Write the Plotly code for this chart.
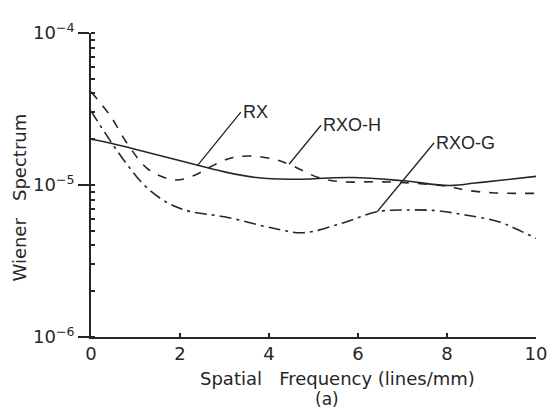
import math
import plotly.graph_objects as go

# ---- data ----
freq_rx = [0.0, 0.42, 0.86, 1.52, 2.40, 3.00, 3.72, 4.45, 5.86, 6.96, 8.06, 8.63, 9.16, 10.0]
ws_rx = [2.00e-5, 1.89e-5, 1.76e-5, 1.57e-5, 1.35e-5, 1.22e-5, 1.12e-5, 1.09e-5,
         1.12e-5, 1.07e-5, 9.93e-6, 1.03e-5, 1.07e-5, 1.14e-5]

freq_h = [0.0, 0.42, 0.86, 1.30, 1.89, 2.33, 2.69, 3.13, 3.57, 4.10, 4.45, 5.11,
          5.64, 6.37, 6.96, 8.06, 8.41, 9.01, 10.0]
ws_h = [4.11e-5, 2.89e-5, 1.79e-5, 1.26e-5, 1.08e-5, 1.16e-5, 1.32e-5, 1.50e-5,
        1.55e-5, 1.48e-5, 1.37e-5, 1.12e-5, 1.05e-5, 1.05e-5, 1.04e-5, 9.75e-6,
        9.27e-6, 8.89e-6, 8.81e-6]

freq_g = [0.0, 0.42, 0.79, 1.23, 1.74, 2.25, 3.00, 4.10, 4.76, 5.64, 6.43, 7.09,
          7.75, 8.41, 9.16, 9.52, 10.0]
ws_g = [3.07e-5, 1.98e-5, 1.39e-5, 9.75e-6, 7.58e-6, 6.67e-6, 6.18e-6, 5.19e-6,
        4.85e-6, 5.60e-6, 6.67e-6, 6.85e-6, 6.78e-6, 6.35e-6, 5.74e-6, 5.19e-6,
        4.46e-6]

series_names = ["RX", "RXO-H", "RXO-G"]
label_idx = [4, 10, 10]          # point on each curve where the leader line starts

x_ticks = [0, 2, 4, 6, 8, 10]
y_ticks = [1e-6, 1e-5, 1e-4]
y_ticktext = ["10<sup>−6</sup>", "10<sup>−5</sup>", "10<sup>−4</sup>"]

x_title = "Spatial   Frequency (lines/mm)"
y_title = "Wiener   Spectrum"
caption = "(a)"

# ---- figure ----
ink = "#262626"
font_family = "DejaVu Sans, Verdana, sans-serif"
label_family = "Liberation Sans, Arial, sans-serif"

fig = go.Figure()
styles = ["solid", "dash", "12px,5px,3px,5px"]
data = [(freq_rx, ws_rx), (freq_h, ws_h), (freq_g, ws_g)]
for (xs, ys), name, dash in zip(data, series_names, styles):
    fig.add_trace(go.Scatter(
        x=xs, y=ys, name=name, mode="lines",
        line=dict(color=ink, width=1.6, dash=dash, shape="spline", smoothing=1.0),
        showlegend=False,
    ))

offsets = [(43, -53), (32, -39), (57, -69)]
for (xs, ys), name, idx, (ax, ay) in zip(data, series_names, label_idx, offsets):
    fig.add_annotation(
        x=xs[idx], y=math.log10(ys[idx]), xref="x", yref="y",
        text=name, showarrow=True, arrowhead=0, arrowwidth=1.3, arrowcolor=ink,
        ax=ax, ay=ay, xanchor="left", yanchor="middle",
        font=dict(family=label_family, size=18, color=ink),
    )

fig.add_annotation(x=0.553, y=-0.135, xref="paper", yref="paper", text=x_title,
                   showarrow=False, font=dict(family=font_family, size=18, color=ink),
                   xanchor="center", yanchor="middle")
fig.add_annotation(x=0.531, y=-0.205, xref="paper", yref="paper", text=caption,
                   showarrow=False, font=dict(family=font_family, size=17, color=ink),
                   xanchor="center", yanchor="middle")
fig.add_annotation(x=-0.161, y=0.46, xref="paper", yref="paper", text=y_title,
                   showarrow=False, textangle=-90,
                   font=dict(family=font_family, size=18, color=ink),
                   xanchor="center", yanchor="middle")

fig.update_xaxes(
    range=[0, 10], tickvals=x_ticks, ticks="inside", ticklen=4, tickwidth=1.5,
    tickcolor=ink, showline=True, linecolor=ink, linewidth=1.6, showgrid=False,
    zeroline=False, tickfont=dict(family=font_family, size=18, color=ink),
)
fig.update_yaxes(
    type="log", range=[-6, -4], tickvals=y_ticks, ticktext=y_ticktext,
    ticks="outside", ticklen=11, tickwidth=1.5, tickcolor=ink,
    showline=True, linecolor=ink, linewidth=1.6, showgrid=False, zeroline=False,
    tickfont=dict(family=font_family, size=18, color=ink),
    minor=dict(ticks="inside", ticklen=4, tickwidth=1.5, tickcolor=ink,
               dtick="D1", showgrid=False),
)
fig.update_layout(
    width=559, height=411,
    margin=dict(l=91, r=14, t=33, b=74),
    plot_bgcolor="white", paper_bgcolor="white",
    font=dict(family=font_family, color=ink),
)

fig.write_html("out.html")
